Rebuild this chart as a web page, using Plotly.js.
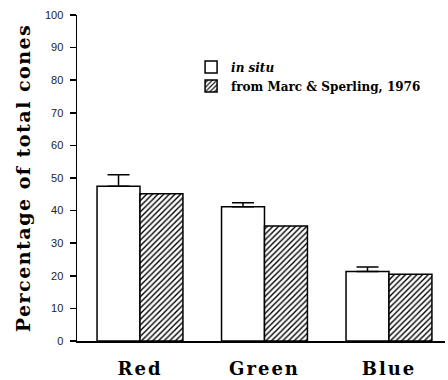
<!DOCTYPE html>
<html>
<head>
<meta charset="utf-8">
<script src="https://cdn.plot.ly/plotly-3.0.1.min.js"></script>
<style>
html,body{margin:0;padding:0;background:#fff;}
#chart{width:448px;height:380px;}
</style>
</head>
<body>
<div id="chart"></div>
<script>
const categories = ["Red", "Green", "Blue"];
const seriesNames = ["in situ", "from Marc & Sperling, 1976"];
const inSitu = [47.5, 41.2, 21.3];
const inSituError = [3.5, 1.2, 1.4];
const marcSperling = [45.2, 35.3, 20.5];
const yTickVals = [0, 10, 20, 30, 40, 50, 60, 70, 80, 90, 100];

const serif = "DejaVu Serif, Liberation Serif, serif";

const traces = [
  {
    type: "bar",
    name: "<i>" + seriesNames[0] + "</i>",
    x: categories,
    y: inSitu,
    marker: {color: "#ffffff", line: {color: "#000", width: 1.5}},
    error_y: {type: "data", array: inSituError, arrayminus: inSituError.map(() => 0),
              symmetric: false, color: "#000", thickness: 1.5, width: 11}
  },
  {
    type: "bar",
    name: seriesNames[1],
    x: categories,
    y: marcSperling,
    marker: {color: "#ffffff", line: {color: "#000", width: 1.5},
             pattern: {shape: "/", size: 4, solidity: 0.35, fgcolor: "#000", bgcolor: "#fff"}}
  }
];

const layout = {
  width: 448, height: 380,
  margin: {l: 77, r: 3, t: 15, b: 39},
  paper_bgcolor: "#fff", plot_bgcolor: "#fff",
  barmode: "group",
  bargap: 0.31,
  bargroupgap: 0,
  showlegend: true,
  legend: {
    x: 0.31, y: 0.885, xanchor: "left", yanchor: "top",
    bgcolor: "rgba(0,0,0,0)",
    font: {family: serif, size: 12, color: "#000", weight: "bold"},
    tracegroupgap: 0
  },
  xaxis: {
    range: [-0.506, 2.45],
    showline: true, linecolor: "#000", linewidth: 1.5,
    ticks: "", showgrid: false, zeroline: false,
    tickfont: {family: serif, size: 18, color: "#000", weight: "bold"},
    ticklabelstandoff: 11
  },
  yaxis: {
    range: [0, 100],
    tickvals: yTickVals,
    ticktext: yTickVals.map(String),
    showline: true, linecolor: "#000", linewidth: 1.5,
    ticks: "outside", ticklen: 6, tickwidth: 1.5, tickcolor: "#000",
    showgrid: false, zeroline: false,
    tickfont: {family: "Liberation Sans, Arial, sans-serif", size: 11, color: "#222"},
    ticklabelstandoff: 4,
    title: {text: "Percentage of total cones", standoff: 9,
            font: {family: serif, size: 19, color: "#000", weight: "bold"}}
  }
};

Plotly.newPlot("chart", traces, layout, {displayModeBar: false, staticPlot: true}).then(function () {
  document.querySelectorAll(".xtick text").forEach(t => t.style.letterSpacing = "2px");
  document.querySelectorAll(".ytitle").forEach(t => t.style.letterSpacing = "1.5px");
});
</script>
</body>
</html>
